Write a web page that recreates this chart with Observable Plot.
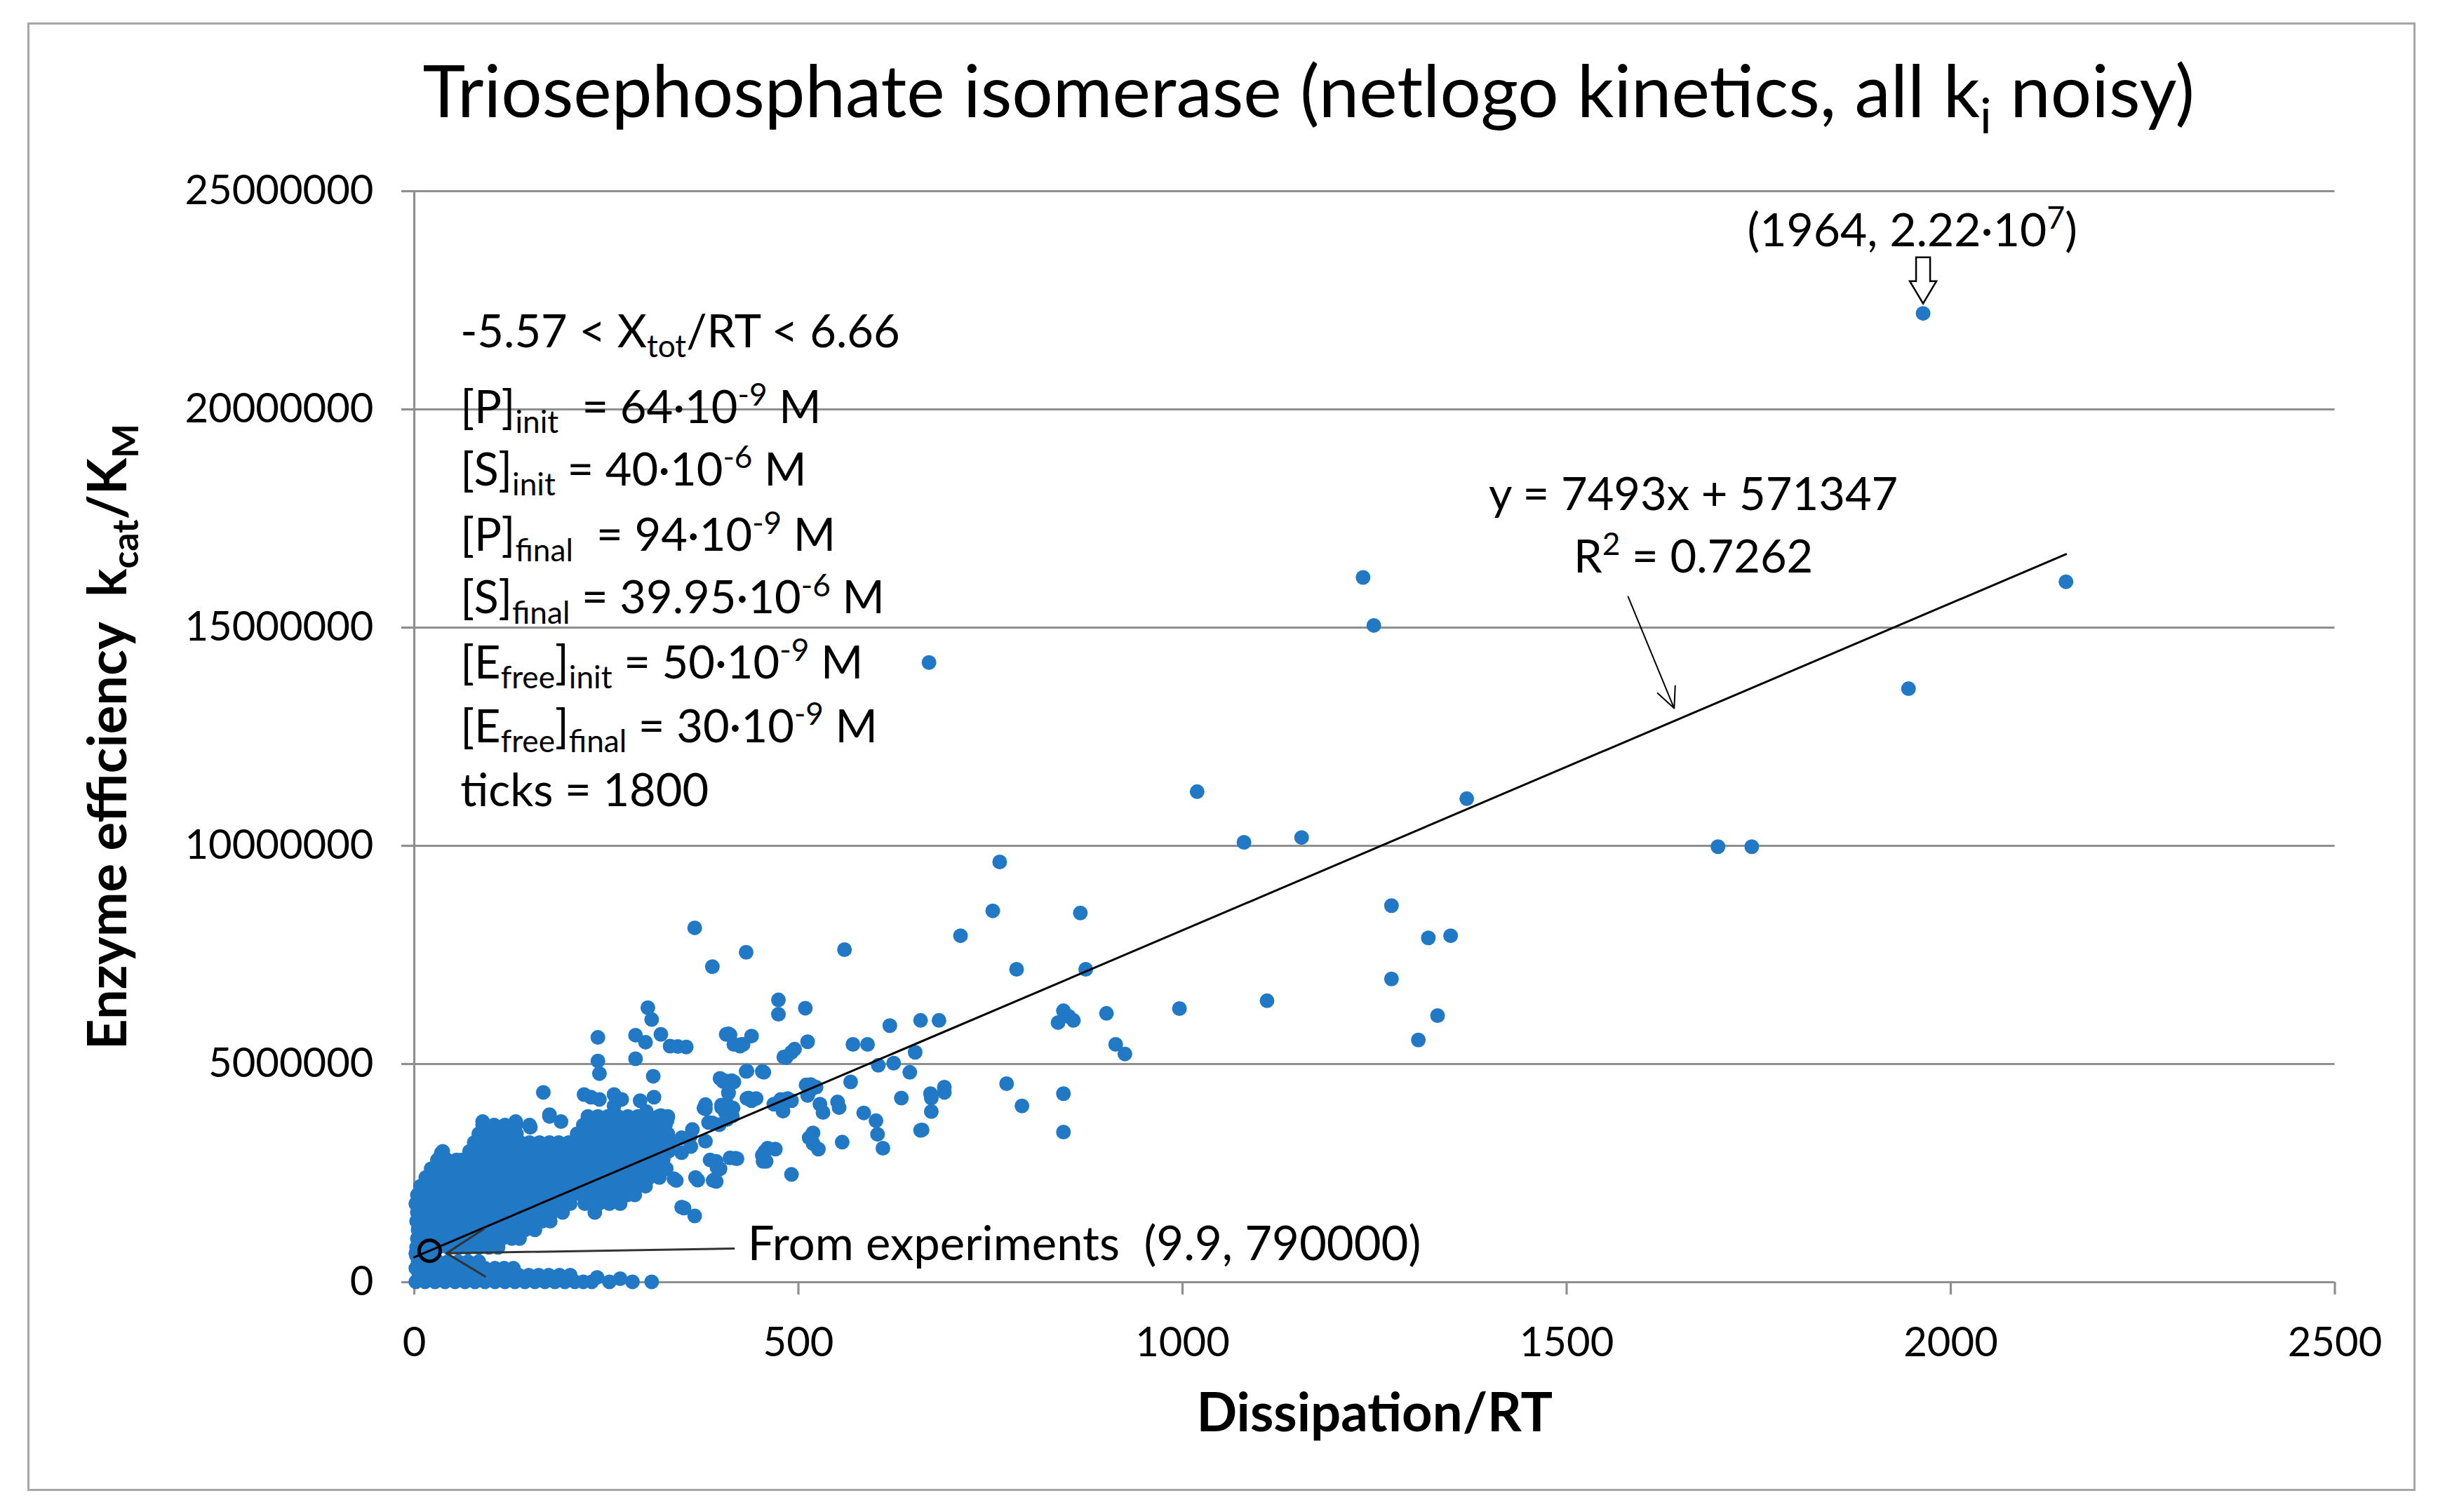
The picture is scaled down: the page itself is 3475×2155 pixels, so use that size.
<!DOCTYPE html>
<html><head><meta charset="utf-8">
<script src="https://cdn.jsdelivr.net/npm/d3@7"></script>
<script src="https://cdn.jsdelivr.net/npm/@observablehq/plot@0.6"></script>
<style>html,body{margin:0;padding:0;background:#fff;} svg{display:block}</style>
</head><body>
<script>
// ---------- DATA ----------
const xTicks = [0, 500, 1000, 1500, 2000, 2500];
const yTicks = [0, 5000000, 10000000, 15000000, 20000000, 25000000];

// isolated points, far from the cluster  [Dissipation/RT, kcat/KM]
const sparsePoints = [
  [1964, 22200000], [2150, 16050000], [1235, 16150000], [1249, 15050000], [1945, 13600000],
  [670, 14200000], [1370, 11080000], [1019, 11240000], [1080, 10080000], [1155, 10190000],
  [1697, 9980000], [1741, 9980000], [762, 9630000], [753, 8510000], [867, 8460000],
  [711, 7940000], [784, 7170000], [874, 7170000], [1272, 8630000], [1320, 7890000],
  [1349, 7940000], [1272, 6950000], [1332, 6110000], [1307, 5550000], [996, 6270000],
  [1110, 6450000], [925, 5230000], [913, 5450000], [901, 6160000], [845, 6220000],
  [852, 6090000], [838, 5950000], [858, 6000000], [771, 4550000], [791, 4040000],
  [845, 4320000], [845, 3440000], [683, 6000000], [659, 6000000], [690, 4470000],
  [690, 4350000], [673, 4220000], [672, 4320000], [673, 3910000], [661, 3490000]
];

// middle region, x 330..650
const midPoints = [
  [365, 8120000], [432, 7560000], [388, 7230000], [560, 7620000],
  [474, 6470000], [474, 6140000], [509, 6280000],
  [411, 5670000], [416, 5450000], [439, 5640000], [428, 5450000], [406, 5680000], [424, 5410000],
  [333, 5410000], [343, 5400000], [354, 5390000],
  [571, 5450000], [590, 5450000], [512, 5510000], [491, 5270000], [484, 5150000], [495, 5340000], [481, 5160000],
  [619, 5880000], [652, 5270000], [624, 5020000], [604, 4970000], [645, 4810000],
  [568, 4590000], [516, 4530000], [523, 4470000], [510, 4520000], [514, 4360000], [512, 4280000],
  [477, 4190000], [491, 4160000],
  [433, 4840000], [455, 4810000], [404, 4620000], [416, 4590000], [398, 4670000], [413, 4620000],
  [453, 4830000], [432, 4830000],
  [435, 4220000], [439, 4160000], [409, 4330000], [433, 4210000], [445, 4210000], [409, 4360000],
  [377, 3990000], [400, 4060000], [415, 3990000], [379, 4070000], [400, 4000000], [407, 4080000],
  [468, 4080000], [480, 3920000], [486, 4210000], [528, 4080000], [532, 3890000], [551, 4130000], [553, 4000000],
  [585, 3880000], [601, 3700000], [610, 3070000], [603, 3390000], [634, 4220000], [659, 3480000],
  [557, 3210000], [519, 3420000], [519, 3180000], [526, 3050000], [514, 3310000],
  [456, 2990000], [470, 3050000], [460, 3070000], [458, 2770000], [420, 2830000], [491, 2470000],
  [393, 2310000], [369, 2340000], [341, 2330000], [389, 2330000], [366, 2400000], [338, 2370000],
  [351, 1700000], [365, 1520000], [348, 1720000],
  [407, 3730000], [397, 3610000], [330, 3790000], [327, 3610000], [348, 3310000], [360, 3110000],
  [348, 2970000], [359, 3340000],
  [418, 2840000], [453, 2910000], [454, 2770000], [385, 2800000], [394, 2630000], [411, 2850000],
  [393, 2770000], [398, 2600000], [391, 2350000],
  [379, 3230000], [388, 3650000], [379, 3970000], [405, 3890000], [414, 3810000], [383, 3660000], [362, 3500000],
  [402, 4600000], [409, 5690000], [426, 5450000]
];

// upper edge of the dense cluster, x < 335
const fringePoints = [
  [304, 6290000], [309, 6020000], [321, 5680000], [288, 5660000], [301, 5500000], [239, 5610000],
  [288, 5120000], [239, 5070000], [241, 4780000], [311, 4720000], [168, 4350000], [221, 4300000],
  [230, 4240000], [241, 4190000], [260, 4300000], [270, 4190000], [294, 4160000], [312, 4240000],
  [260, 4040000], [302, 3910000], [309, 3730000], [329, 3710000], [321, 3820000], [313, 3440000],
  [326, 3280000], [89, 3680000], [132, 3680000], [151, 3550000], [176, 3840000], [191, 3680000],
  [35, 2960000], [62, 2800000], [24, 2450000], [238, 110000], [268, 80000]
];

// dense cluster, read row by row: [kcat/KM, [Dissipation/RT values]]
const denseRows = [
  [660000, [2]],
  [800000, [3, 19, 31, 44, 58, 70, 84, 97, 109]],
  [1000000, [4, 13, 26, 38, 51, 63, 77, 89, 102, 114, 127, 137]],
  [1200000, [5, 17, 30, 42, 55, 68, 81, 93, 106, 119, 131, 144, 157]],
  [1400000, [3, 16, 28, 41, 54, 67, 79, 92, 104, 117, 130, 143, 155, 167, 177]],
  [1600000, [4, 15, 27, 40, 52, 65, 78, 91, 103, 116, 128, 141, 154, 166, 179, 193, 235]],
  [1800000, [2, 14, 26, 39, 51, 64, 77, 89, 102, 115, 127, 140, 152, 165, 178, 190, 203, 222, 240, 254, 268]],
  [2000000, [4, 16, 29, 41, 53, 66, 79, 91, 104, 117, 129, 142, 154, 167, 180, 192, 205, 218, 231, 246, 262, 277, 287]],
  [2200000, [8, 20, 33, 45, 58, 71, 83, 96, 109, 121, 134, 147, 159, 172, 184, 197, 210, 223, 236, 249, 262, 275, 289, 301]],
  [2400000, [15, 27, 40, 52, 65, 78, 90, 103, 116, 128, 141, 153, 166, 179, 191, 204, 217, 229, 242, 255, 267, 280, 293, 306, 319]],
  [2600000, [22, 35, 47, 60, 73, 85, 98, 111, 123, 136, 149, 161, 174, 187, 199, 212, 225, 237, 250, 263, 276, 289, 302, 316, 328]],
  [2800000, [30, 43, 55, 68, 81, 94, 106, 119, 132, 144, 157, 170, 182, 195, 208, 220, 233, 246, 258, 271, 284, 297, 311, 324]],
  [3000000, [37, 72, 82, 95, 108, 120, 133, 146, 158, 171, 184, 197, 210, 222, 235, 248, 261, 274, 287, 300, 314, 331]],
  [3200000, [78, 88, 100, 113, 125, 138, 150, 163, 176, 188, 201, 213, 226, 239, 252, 265, 278, 292, 306, 319, 334]],
  [3400000, [84, 96, 108, 120, 133, 212, 225, 238, 251, 264, 277, 290, 304, 316, 330]],
  [3600000, [89, 104, 118, 132, 150, 220, 232, 245, 258, 270, 283, 296, 310, 322]],
  [3800000, [176, 226, 239, 252, 265, 278, 291, 305, 318, 330]]
];

// lower band near zero efficiency
const bottomRows = [
  [10000, [2, 14, 27, 40, 53, 66, 79, 92, 105, 118, 131, 144, 157, 170, 183, 196, 209, 220, 231, 254, 284, 309]],
  [160000, [6, 19, 32, 45, 58, 71, 84, 97, 110, 123, 136, 149, 162, 175, 189, 203]],
  [320000, [2, 14, 27, 40, 53, 66, 79, 92, 105, 117, 129]],
  [470000, [5, 18, 31, 44, 57, 70, 84]],
  [600000, [3, 13, 26]]
];

// trend line as printed on the chart
const trend = {slope: 7493, intercept: 571347, xFrom: 0, xTo: 2150, r2: 0.7262};
const highlight = {x: 1964, y: 22200000};
const experiment = {x: 9.9, y: 790000};

// annotation texts
const titleText = "Triosephosphate isomerase (netlogo kinetics, all k_{i} noisy)";
const xLabel = "Dissipation/RT";
const yLabel = "Enzyme efficiency  k_{cat}/K_{M}";
const noteLines = [
  "-5.57 < X_{tot}/RT < 6.66",
  "[P]_{init}  = 64·10^{-9} M",
  "[S]_{init} = 40·10^{-6} M",
  "[P]_{final}  = 94·10^{-9} M",
  "[S]_{final} = 39.95·10^{-6} M",
  "[E_{free}]_{init} = 50·10^{-9} M",
  "[E_{free}]_{final} = 30·10^{-9} M",
  "ticks = 1800"
];

// ---------- LAYOUT (annotation anchors, in data units) ----------
const noteX = 60;
const noteY = [21760000, 20020000, 18590000, 17090000, 15660000, 14170000, 12710000, 11240000];
const eqPos = {x: 1665, y1: 18030000, y2: 16600000};
const eqArrow = [{x1: 1580, y1: 15710000, x2: 1640, y2: 13150000}];
const hlLabelPos = {x: 1950, y: 24080000};
const expText = {x: 434, y: 850000};
const expArrow = [{x1: 416, y1: 770000, x2: 42, y2: 665000}];
const expCircle = {x: 20, y: 720000};

// ---------- BUILD ----------
const points = [
  ...bottomRows.flatMap(([y, xs]) => xs.map(x => [x, y])),
  ...denseRows.flatMap(([y, xs]) => xs.map(x => [x, y])),
  ...fringePoints, ...midPoints, ...sparsePoints
];
const trendPts = [trend.xFrom, trend.xTo].map(x => ({x, y: trend.slope * x + trend.intercept}));

const blockArrow = {
  draw(ctx, size) {
    const s = Math.sqrt(size / Math.PI) / 33;
    ctx.moveTo(-10 * s, -33 * s);
    ctx.lineTo(10 * s, -33 * s);
    ctx.lineTo(10 * s, 1 * s);
    ctx.lineTo(19 * s, 1 * s);
    ctx.lineTo(0, 33 * s);
    ctx.lineTo(-19 * s, 1 * s);
    ctx.lineTo(-10 * s, 1 * s);
    ctx.closePath();
  }
};

const FONT = "Lato, 'Open Sans', sans-serif";
const GRID = "#8f8f8f";
const BLUE = "#2179c6";
const NOTE = 65;

const chart = Plot.plot({
  width: 3475, height: 2155,
  marginLeft: 590, marginRight: 147.5, marginTop: 272, marginBottom: 328,
  style: {fontFamily: FONT, fontSize: "58px", color: "#000", background: "white", overflow: "visible"},
  x: {domain: [0, 2500]},
  y: {domain: [0, 25000000]},
  marks: [
    Plot.frame({stroke: "#a6a6a6", strokeWidth: 3, insetLeft: -550, insetTop: -239, insetRight: -113.5, insetBottom: -296}),
    Plot.ruleY(yTicks, {stroke: GRID, strokeWidth: 3.2}),
    Plot.ruleX([0], {y1: 0, y2: 25000000, stroke: GRID, strokeWidth: 3.2}),
    Plot.axisX({ticks: xTicks, tickFormat: d => String(d), tickSize: 18, tickPadding: 46, stroke: GRID, strokeWidth: 3.2, fill: "#000", fontSize: 58, label: null}),
    Plot.axisY({ticks: yTicks, tickFormat: d => String(d), tickSize: 18, tickPadding: 40, stroke: GRID, strokeWidth: 3.2, fill: "#000", fontSize: 58, label: null}),
    Plot.dot(points, {x: d => d[0], y: d => d[1], r: 10.5, fill: BLUE}),
    Plot.line(trendPts, {x: "x", y: "y", stroke: "#000", strokeWidth: 3}),
    // regression annotation
    Plot.text([`y = ${trend.slope}x + ${trend.intercept}`], {x: () => eqPos.x, y: () => eqPos.y1, text: d => d, fontSize: NOTE, fontFamily: FONT, fill: "#000", lineAnchor: "middle"}),
    Plot.text([`R^{2} = ${trend.r2}`], {x: () => eqPos.x, y: () => eqPos.y2, text: d => d, fontSize: NOTE, fontFamily: FONT, fill: "#000", lineAnchor: "middle"}),
    Plot.arrow(eqArrow, {x1: "x1", y1: "y1", x2: "x2", y2: "y2", stroke: "#000", strokeWidth: 2, headLength: 24, headAngle: 50}),
    // highlighted max point
    Plot.dot([highlight], {x: "x", y: "y", r: 33, symbol: blockArrow, fill: "white", stroke: "#000", strokeWidth: 2.5, dy: -47}),
    Plot.text([`(${highlight.x}, 2.22·10^{7})`], {x: () => hlLabelPos.x, y: () => hlLabelPos.y, text: d => d, fontSize: 66, fontFamily: FONT, fill: "#000", lineAnchor: "middle"}),
    // experiment annotation
    Plot.arrow(expArrow, {x1: "x1", y1: "y1", x2: "x2", y2: "y2", stroke: "#333", strokeWidth: 3, headLength: 32, headAngle: 64}),
    Plot.dot([expCircle], {x: "x", y: "y", r: 15, fill: "none", stroke: "#000", strokeWidth: 5}),
    Plot.text([`From experiments  (${experiment.x}, ${experiment.y})`], {x: () => expText.x, y: () => expText.y, text: d => d, fontSize: 67, fontFamily: FONT, fill: "#000", textAnchor: "start", lineAnchor: "middle"}),
    // parameter block
    Plot.text(noteLines, {x: () => noteX, y: (d, i) => noteY[i], text: d => d, fontSize: NOTE, fontFamily: FONT, fill: "#000", textAnchor: "start", lineAnchor: "middle"}),
    // titles
    Plot.text([titleText], {frameAnchor: "top", text: d => d, dx: -94, dy: -138, fontSize: 103, fontFamily: FONT, fill: "#000", textAnchor: "middle", lineAnchor: "middle"}),
    Plot.text([xLabel], {frameAnchor: "bottom", text: d => d, dy: 188, fontSize: 76, fontWeight: "bold", fontFamily: FONT, fill: "#000", textAnchor: "middle", lineAnchor: "middle"}),
    Plot.text([yLabel], {frameAnchor: "left", text: d => d, dx: -435, dy: 0, rotate: -90, fontSize: 76, fontWeight: "bold", fontFamily: FONT, fill: "#000", textAnchor: "middle", lineAnchor: "middle"})
  ]
});
document.body.appendChild(chart);

// rich text: _{sub} and ^{sup}
d3.select(chart).selectAll("text").each(function () {
  const t = this.textContent;
  if (!/[_^]\{/.test(t)) return;
  const fs = parseFloat(getComputedStyle(this).fontSize);
  const parts = t.split(/([_^]\{[^}]*\})/).filter(s => s.length);
  const sel = d3.select(this);
  sel.text(null);
  let shift = 0;
  for (const p of parts) {
    let target = 0, size = null, str = p;
    if (p.startsWith("_{")) { target = 0.22 * fs; size = 0.68 * fs; str = p.slice(2, -1); }
    else if (p.startsWith("^{")) { target = -0.38 * fs; size = 0.68 * fs; str = p.slice(2, -1); }
    const ts = sel.append("tspan").text(str).attr("dy", target - shift);
    if (size) ts.attr("font-size", size);
    shift = target;
  }
});
</script>
</body></html>
